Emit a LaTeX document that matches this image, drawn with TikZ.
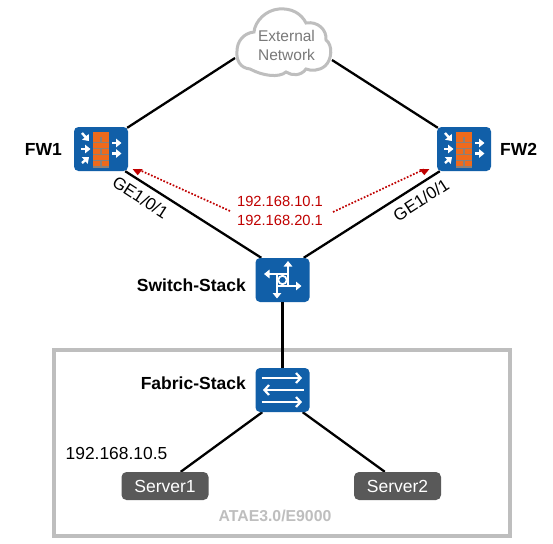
\documentclass[tikz,border=0pt]{standalone}
\usepackage{fontspec}
\setmainfont{Liberation Sans}
\usetikzlibrary{backgrounds,arrows.meta,calc}
\definecolor{hwblue}{HTML}{115FA8}
\definecolor{brick}{HTML}{EE6A1C}
\definecolor{mortar}{HTML}{8A8078}
\definecolor{frame}{HTML}{BEBEBE}
\definecolor{srv}{HTML}{595959}
\definecolor{redt}{HTML}{C00000}
\tikzset{
  dev/.style={draw=none,fill=hwblue,rounded corners=4.5pt,minimum width=54pt,minimum height=44pt,inner sep=0pt},
  srvbox/.style={fill=srv,rounded corners=5pt,minimum width=87pt,minimum height=28pt,inner sep=0pt,text=white,font=\fontsize{17.5}{19}\selectfont},
  link/.style={black,line width=2.3pt},
  lab/.style={font=\fontsize{14.7}{17}\selectfont,inner sep=0pt},
  blab/.style={font=\bfseries\fontsize{17.5}{19}\selectfont,inner sep=0pt},
  gelab/.style={font=\fontsize{17}{18}\selectfont,inner sep=0pt},
  reddot/.style={redt,line width=1.7pt,dash pattern=on 1.7pt off 1.7pt,-{Triangle[length=6pt,width=9.5pt]}},
  wa/.style={white,line width=2.4pt,-{Triangle[length=5.5pt,width=8.5pt]}},
  ga/.style={white,line width=2.4pt,-{Straight Barb[length=4.5pt,width=10pt,line width=2.2pt]}}
}
\newcommand{\fwicon}[1]{%
  \begin{scope}[shift={(#1)}]
    \fill[mortar] (-8.3,-17.5) rectangle (8.3,18.5);
    \foreach \yy in {-17.5,-5.7,6.1}{
      \fill[brick] (-8,\yy) rectangle (8,\yy+5);}
    \foreach \yy in {-11.6,0.2,12}{
      \fill[brick] (-8,\yy) rectangle (-1,\yy+5);
      \fill[brick] (1,\yy) rectangle (8,\yy+5);}
    \draw[wa] (-19,-16) -- (-12,-8);
    \draw[wa] (-20,0) -- (-10.5,0);
    \draw[wa] (-19,14) -- (-12,8);
    \draw[wa] (11,-6) -- (20.5,-6);
    \draw[wa] (11,4.5) -- (20.5,4.5);
  \end{scope}}
\begin{document}
\begin{tikzpicture}[x=1pt,y=-1pt]
\useasboundingbox (0,0) rectangle (553,543);
\node[dev] (fw1) at (101,149) {};
\node[dev] (fw2) at (464,149) {};
\node[dev] (sw) at (282.5,280) {};
\node[dev] (fab) at (282.5,390) {};
\node[srvbox] (s1) at (165,486) {Server1};
\node[srvbox] (s2) at (397.5,486) {Server2};
\fwicon{101,149}
\fwicon{464,149}
% switch icon
\begin{scope}[shift={(sw.center)}]
  \draw[wa] (5.5,5) -- (5.5,-19);
  \draw[wa] (5,-6) -- (-18.5,-6);
  \draw[wa] (-5,6) -- (19,6);
  \draw[wa] (-5.5,-5) -- (-5.5,18.5);
  \draw[white,line width=1.8pt,fill=hwblue] (0,0) circle (4.2);
\end{scope}
% fabric icon
\begin{scope}[shift={(fab.center)}]
  \draw[ga] (-21,-12) -- (19.5,-12);
  \draw[ga] (21,0) -- (-19.5,0);
  \draw[ga] (-21,12) -- (19.5,12);
\end{scope}
% cloud
\path[draw=frame,line width=3pt,fill=white]
  (250,69) .. controls (240,68) and (236,60) .. (237,51)
  .. controls (237,41) and (244,33) .. (254,32)
  .. controls (255,21) and (266,10) .. (279,9)
  .. controls (291,8) and (301,13) .. (306,23)
  .. controls (318,21) and (327,30) .. (326,40)
  .. controls (333,45) and (332,60) .. (325,66)
  .. controls (319,71) and (311,71) .. (306,69)
  .. controls (301,76) and (292,76) .. (286,72)
  .. controls (279,78) and (263,76) .. (250,69) -- cycle;
\node[text=gray!95!black,align=center,font=\fontsize{15.5}{19}\selectfont,inner sep=0pt] (net) at (286.5,45) {External\\Network};
\coordinate (cl) at (235,58);
\coordinate (cr) at (332,60);
\begin{scope}[on background layer]
  \fill[white] (0,0) rectangle (553,543);
  \draw[link] ($(fw1.north east)+(-1,1)$) -- (cl);
  \draw[link] ($(fw2.north west)+(1,1)$) -- (cr);
  \draw[link] ($(fw1.south east)+(-3,0)$) -- ($(sw.north west)+(6,0)$);
  \draw[link] ($(fw2.south west)+(3,0)$) -- ($(sw.north east)+(-6,0)$);
  \draw[link] ($(fab.south west)+(7,0)$) -- ($(s1.north east)+(-28,0)$);
  \draw[link] ($(fab.south east)+(-7,0)$) -- ($(s2.north west)+(31,0)$);
\end{scope}
\draw[frame,line width=3.2pt] (54,350) rectangle (510,536);
\draw[link] (sw.south) -- (fab.north);
\node[font=\bfseries\fontsize{15.8}{17}\selectfont,text=frame,inner sep=0pt] (ata) at (275,516) {ATAE3.0/E9000};
\node[blab,anchor=east] (lf1) at (62,149) {FW1};
\node[blab,anchor=west] (lf2) at (500,149) {FW2};
\node[blab,anchor=east] (lsw) at (246,285) {Switch-Stack};
\node[blab,anchor=east] (lfab) at (246,383) {Fabric-Stack};
\node[font=\fontsize{17.4}{19}\selectfont,inner sep=0pt] (ip) at (116.5,454) {192.168.10.5};
\node[lab,text=redt] (ip1) at (280,201) {192.168.10.1};
\node[lab,text=redt] (ip2) at (280,220) {192.168.20.1};
\node[gelab,rotate=-33] (g1) at (140.5,197.5) {GE1/0/1};
\node[gelab,rotate=33] (g2) at (421,200) {GE1/0/1};
\coordinate (ra) at (230,211);
\coordinate (rb) at (333,212);
\draw[reddot] (ra) -- ($(fw1.south east)+(9.5,-2)$) -- ($(fw1.south east)+(9.5,4)$);
\draw[reddot] (rb) -- ($(fw2.south west)+(-12.5,-2)$) -- ($(fw2.south west)+(-12.5,4)$);
\end{tikzpicture}
\end{document}
